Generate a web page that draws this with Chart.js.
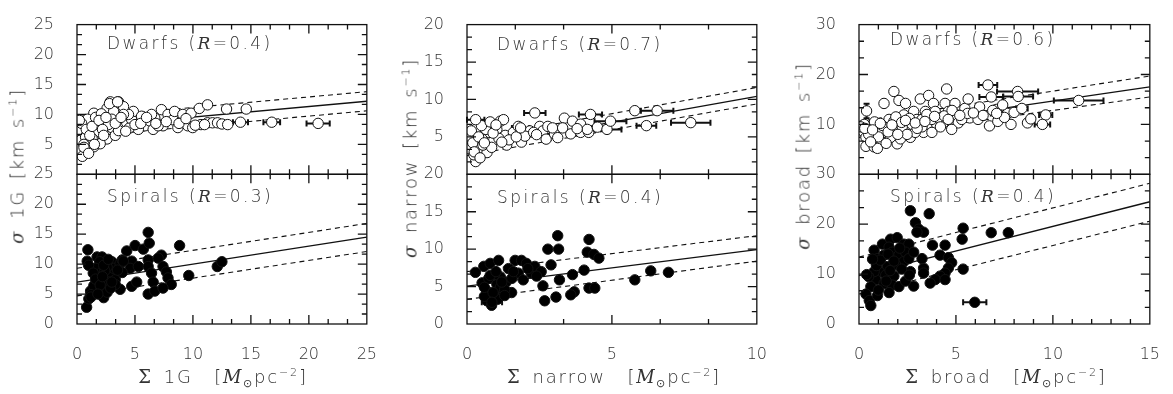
<!DOCTYPE html>
<html>
<head>
<meta charset="utf-8">
<script src="https://cdn.jsdelivr.net/npm/chart.js@4.4.1/dist/chart.umd.min.js"></script>
<style>
  html, body { margin: 0; padding: 0; background: #fff; }
  #wrap { position: relative; width: 1173px; height: 394px; overflow: hidden; }
  canvas { position: absolute; top: 0; }
  .txt { position: absolute; white-space: nowrap; color: #333; font-family: 'DejaVu Sans', sans-serif; font-weight: 200; }
  .panel { font-size: 17px; letter-spacing: 2.4px; transform: translateY(-50%); }
  .xt { font-size: 18px; letter-spacing: 1.8px; transform: translate(-50%, -50%); }
  .yt { font-size: 18px; letter-spacing: 1.8px; transform: translate(-50%, -50%) rotate(-90deg); }
  .m { font-family: 'DejaVu Serif', serif; font-style: italic; font-weight: normal; }
  .g { font-family: 'DejaVu Serif', serif; font-weight: normal; }
  sup, sub { font-size: 11px; }
</style>
</head>
<body>
<div id="wrap">
  <canvas id="c1" width="390" height="394" style="left:0px"></canvas>
  <canvas id="c2" width="390" height="394" style="left:390px"></canvas>
  <canvas id="c3" width="393" height="394" style="left:780px"></canvas>

  <div class="txt panel" style="left:107px;top:43px">Dwarfs (<span class="m">R</span>=0.4)</div>
  <div class="txt panel" style="left:107px;top:196px">Spirals (<span class="m">R</span>=0.3)</div>
  <div class="txt panel" style="left:497px;top:44px">Dwarfs (<span class="m">R</span>=0.7)</div>
  <div class="txt panel" style="left:497px;top:197px">Spirals (<span class="m">R</span>=0.4)</div>
  <div class="txt panel" style="left:890px;top:39px">Dwarfs (<span class="m">R</span>=0.6)</div>
  <div class="txt panel" style="left:890px;top:196px">Spirals (<span class="m">R</span>=0.4)</div>

  <div class="txt yt" style="left:17px;top:166px"><span class="m">σ</span>&ensp;1G&ensp;[km&ensp;s<sup>−1</sup>]</div>
  <div class="txt yt" style="left:410px;top:158px"><span class="m">σ</span>&ensp;narrow&ensp;[km&ensp;s<sup>−1</sup>]</div>
  <div class="txt yt" style="left:803px;top:156px"><span class="m">σ</span>&ensp;broad&ensp;[km&ensp;s<sup>−1</sup>]</div>

  <div class="txt xt" style="left:223px;top:378px"><span class="g">Σ</span>&ensp;1G&ensp;&ensp;[<span class="m">M</span><sub>⊙</sub>pc<sup>−2</sup>]</div>
  <div class="txt xt" style="left:614px;top:378px"><span class="g">Σ</span>&ensp;narrow&ensp;&ensp;[<span class="m">M</span><sub>⊙</sub>pc<sup>−2</sup>]</div>
  <div class="txt xt" style="left:1006px;top:378px"><span class="g">Σ</span>&ensp;broad&ensp;&ensp;[<span class="m">M</span><sub>⊙</sub>pc<sup>−2</sup>]</div>
</div>

<script>
// ---------- Σ 1G / σ 1G ----------
const dw1G_x = [1.45, 0.54, 0.31, 0.17, 0.31, 0.74, 0.46, 1.45, 1.02, 1.88, 2.30, 2.45, 3.01, 2.16, 2.59, 3.30,
  3.44, 3.87, 4.29, 4.72, 4.86, 4.44, 5.57, 5.86, 6.29, 6.71, 6.43, 7.28, 7.42, 7.85, 8.28, 8.42, 8.70, 9.13,
  9.56, 9.84, 9.98, 10.55, 10.69, 11.26, 11.26, 11.69, 12.12, 12.90, 14.60, 0.03, 1.17, 1.74, 1.45, 3.58, 5.29,
  6.57, 7.00, 2.87, 3.58, 4.01, 2.59, 3.16, 4.01, 1.17, 0.74, 0.90, 1.60, 2.10, 0.60, 1.30, 2.00, 4.50, 5.00,
  3.00, 2.70, 2.80, 3.50, 0.40, 0.80, 1.10, 1.30, 1.90, 2.20, 2.50, 0.20, 0.60, 1.00, 1.50, 2.30, 3.30, 3.80,
  4.20, 5.50, 6.00, 6.80, 7.70, 8.80, 9.40, 10.2, 11.0, 12.5, 13.0];
const dw1G_y = [10.2, 8.9, 7.8, 6.5, 5.7, 4.0, 3.0, 4.6, 7.3, 7.8, 8.6, 7.0, 7.8, 6.2, 5.9, 6.5,
  8.9, 7.8, 8.6, 9.1, 10.5, 10.0, 9.7, 8.1, 8.9, 9.4, 10.0, 10.8, 8.1, 10.0, 9.1, 10.5, 7.8, 10.0,
  8.1, 10.2, 7.8, 11.0, 8.3, 11.6, 8.6, 8.6, 8.6, 10.9, 10.9, 7.3, 8.9, 6.7, 5.7, 7.3, 7.5,
  7.5, 8.1, 12.1, 12.1, 11.3, 11.0, 10.5, 10.0, 8.1, 6.2, 9.2, 9.5, 10.1, 5.0, 6.0, 5.1, 7.7, 8.3,
  9.2, 8.3, 11.8, 12.1, 8.5, 7.5, 6.5, 8.0, 9.0, 7.5, 9.5, 9.0, 4.5, 3.5, 5.0, 6.5, 8.5, 9.5,
  7.2, 8.5, 9.5, 8.5, 8.8, 8.5, 9.3, 8.2, 8.3, 8.4, 8.3];
// points with horizontal error bars: x, y, error
const dw1G_ebX = [14.1, 16.8, 20.8];
const dw1G_ebY = [8.7, 8.7, 8.5];
const dw1G_ebE = [0.65, 0.72, 1.0];

const sp1G_x = [0.94, 0.88, 0.83, 1.17, 1.02, 1.73, 2.16, 1.96, 1.59, 1.88, 1.73, 2.16, 2.44, 2.59, 1.45, 2.02,
  2.30, 2.87, 3.01, 3.16, 3.72, 3.30, 3.72, 4.29, 4.72, 4.58, 5.29, 5.01, 4.72, 5.15, 5.72, 6.23, 6.14, 6.14,
  6.14, 6.43, 6.57, 6.14, 6.71, 7.28, 7.00, 7.42, 7.71, 7.85, 8.13, 7.42, 8.85, 9.64, 12.1, 12.5, 2.6, 3.3,
  1.2, 3.9, 3.9, 2.6, 2.4, 2.9, 1.0, 1.4, 1.6, 2.0, 2.3, 2.7, 1.2, 1.8, 3.5, 3.0, 4.0, 2.2];
const sp1G_y = [12.4, 10.5, 2.8, 5.5, 4.2, 11.2, 11.2, 10.4, 9.3, 8.2, 7.1, 8.7, 7.7, 6.6, 6.4, 5.5,
  4.4, 8.7, 10.4, 9.3, 10.1, 7.4, 5.8, 12.2, 10.5, 9.3, 9.6, 13.1, 6.3, 7.0, 12.5, 13.5, 15.3, 10.7,
  9.6, 8.5, 7.0, 5.0, 5.5, 11.5, 11.0, 9.6, 8.7, 7.7, 6.6, 6.0, 13.1, 8.1, 9.6, 10.4, 5.3, 6.6,
  4.9, 8.6, 10.7, 9.5, 8.9, 6.0, 9.8, 8.5, 7.5, 6.5, 9.8, 10.8, 4.5, 5.0, 9.0, 7.0, 10.5, 7.9];

const range1G = [0, 25];
const fitDw1G = [7.8, 12.2];
const upDw1G  = [9.4, 13.8];
const loDw1G  = [6.2, 10.6];
const fitSp1G = [7.0, 14.5];
const upSp1G  = [9.3, 16.8];
const loSp1G  = [4.7, 12.1];

// ---------- Σ narrow / σ narrow ----------
const dwNa_x = [0.35, 0.12, 0.07, 0.30, 0.24, 0.47, 0.69, 0.75, 0.52, 0.92, 1.03, 1.15, 1.26, 1.32, 1.37, 1.60,
  1.77, 1.94, 1.88, 2.17, 2.51, 2.62, 2.73, 2.79, 3.02, 3.13, 3.36, 3.58, 3.64, 3.92, 3.92, 4.20, 4.15,
  5.79, 0.65, 0.35, 0.08, 0.20, 0.55, 0.85, 1.10, 1.45, 2.00, 2.30, 2.95, 0.15, 0.40, 0.60, 0.90, 1.20,
  0.50, 0.25, 0.45, 1.70, 2.40, 3.30, 3.80, 4.50, 0.80, 1.00];
const dwNa_y = [6.2, 4.7, 3.4, 1.7, 2.6, 3.4, 2.9, 5.6, 4.7, 4.5, 6.0, 7.1, 7.3, 5.2, 3.9, 5.6,
  6.4, 5.4, 4.3, 5.8, 6.4, 5.8, 4.7, 6.4, 5.4, 4.9, 7.5, 5.4, 7.1, 6.7, 5.6, 5.6, 6.0,
  8.5, 6.0, 4.0, 5.1, 4.2, 3.9, 3.6, 4.8, 4.6, 5.1, 5.6, 6.2, 5.8, 5.0, 4.2, 5.5, 4.3,
  6.5, 3.0, 2.2, 5.0, 5.3, 6.2, 6.1, 6.3, 7.0, 6.6];
const dwNa_ebX = [0.30, 2.34, 4.26, 4.83, 4.95, 6.56, 6.19, 7.72, 1.85];
const dwNa_ebY = [7.3, 8.2, 8.0, 6.0, 7.1, 8.5, 6.5, 6.9, 6.2];
const dwNa_ebE = [0.30, 0.37, 0.40, 0.50, 0.55, 0.56, 0.34, 0.68, 0.30];

const spNa_x = [0.29, 0.58, 0.80, 1.09, 0.52, 0.75, 0.69, 0.69, 0.97, 1.03, 1.15, 1.26, 1.54, 1.43, 1.66, 1.88,
  2.05, 1.77, 1.94, 2.22, 2.34, 2.56, 2.90, 2.62, 2.68, 2.79, 3.13, 3.16, 3.19, 3.07, 3.64, 3.70, 3.58, 4.04,
  4.21, 4.15, 4.38, 4.55, 4.21, 4.41, 5.79, 6.34, 6.95, 0.60, 1.05, 1.15, 1.35, 1.55, 2.10, 0.95, 1.30,
  0.80, 1.00, 0.60, 0.90, 1.20, 1.60, 2.40, 0.85, 1.30];
const spNa_y = [6.9, 7.7, 8.1, 8.5, 5.5, 6.1, 4.4, 3.1, 3.5, 5.3, 6.3, 4.0, 4.2, 7.4, 8.5, 8.5,
  8.1, 6.8, 5.9, 6.8, 7.7, 7.0, 7.9, 5.1, 3.1, 10.0, 11.8, 10.0, 5.9, 3.6, 6.6, 4.3, 3.9, 7.2,
  11.3, 9.6, 9.3, 8.8, 4.8, 4.8, 5.9, 7.1, 6.9, 3.7, 3.3, 4.9, 5.6, 6.1, 7.4, 6.6, 4.6,
  6.5, 7.0, 4.9, 4.2, 5.6, 7.0, 6.4, 2.5, 3.8];
const spNa_ebX = [0.86];
const spNa_ebY = [2.9];
const spNa_ebE = [0.35];
const spNa_evE = [0.6];

const rangeNa = [0, 10];
const fitDwNa = [3.5, 10.4];
const upDwNa  = [4.6, 11.6];
const loDwNa  = [2.5, 9.4];
const fitSpNa = [5.05, 9.95];
const upSpNa  = [7.0, 11.8];
const loSpNa  = [3.3, 8.4];

// ---------- Σ broad / σ broad ----------
const dwBr_x = [0.27, 0.19, 0.36, 0.36, 0.78, 0.95, 0.61, 1.04, 1.29, 1.46, 1.55, 1.80, 1.80, 1.97, 2.14, 2.06,
  2.40, 2.31, 2.57, 2.65, 2.82, 2.99, 3.16, 3.33, 3.59, 3.42, 3.84, 3.93, 4.01, 4.35, 4.44, 4.52, 4.61, 4.95,
  5.03, 5.12, 5.46, 5.63, 5.71, 6.14, 6.22, 6.73, 7.08, 7.16, 7.67, 7.84, 8.69, 8.86, 7.41, 0.87, 1.38,
  1.72, 2.23, 2.74, 3.25, 3.76, 4.10, 4.40, 4.78, 5.30, 3.25, 3.76, 2.90, 2.48, 1.63, 1.20, 0.50, 0.80,
  1.00, 1.20, 1.50, 1.90, 2.20, 2.60, 3.00, 3.50, 4.20, 4.80, 5.60, 6.40, 6.90, 7.50, 8.00, 0.10, 0.60, 1.40,
  0.30, 0.70, 1.10, 1.70, 2.00, 2.40, 2.90, 3.40, 3.90, 4.60, 5.20, 5.90];
const dwBr_y = [10.0, 8.7, 7.4, 5.6, 5.5, 5.2, 9.0, 9.3, 14.2, 6.8, 11.0, 16.6, 10.6, 6.1, 7.1, 14.8,
  14.2, 11.9, 9.3, 7.4, 12.6, 11.0, 15.1, 8.4, 15.8, 12.6, 14.2, 12.6, 10.0, 10.3, 14.2, 17.1, 12.6, 14.2,
  11.9, 10.3, 13.2, 15.1, 11.3, 11.0, 13.5, 9.7, 13.0, 10.6, 12.2, 10.0, 10.3, 11.1, 13.9, 9.7, 8.4,
  9.0, 9.5, 10.0, 11.0, 11.0, 11.3, 11.7, 9.0, 11.0, 9.5, 8.4, 8.4, 8.0, 7.4, 8.7, 8.0, 10.5,
  7.5, 9.8, 8.5, 11.5, 10.4, 11.2, 9.2, 12.0, 9.5, 12.8, 12.2, 11.8, 12.8, 11.4, 12.4, 9.5, 6.5, 6.2,
  9.2, 8.9, 10.2, 9.9, 8.0, 10.8, 10.3, 10.6, 11.6, 11.0, 11.8, 12.3];
const dwBr_ebX = [6.65, 8.18, 6.82, 8.21, 11.33, 8.40, 7.10, 9.63, 9.46];
const dwBr_ebY = [17.9, 16.6, 15.5, 15.6, 14.8, 13.2, 12.2, 11.9, 10.0];
const dwBr_ebE = [0.48, 1.06, 0.61, 0.77, 1.28, 0.30, 0.30, 0.34, 0.40];
// vertical error bar
const dwBr_evX = [0.39];
const dwBr_evY = [12.7];
const dwBr_evE = [1.45];

const spBr_x = [2.65, 3.62, 2.91, 3.08, 3.33, 2.99, 5.37, 5.32, 6.82, 7.70, 3.79, 4.44, 4.18, 4.61, 4.78, 4.61,
  4.44, 4.18, 3.93, 4.44, 3.67, 3.33, 3.33, 2.82, 2.65, 5.37, 0.78, 1.21, 1.63, 1.97, 2.31, 2.57, 1.55, 0.95,
  1.29, 1.72, 2.06, 2.40, 2.31, 1.89, 1.46, 1.04, 1.38, 1.80, 0.87, 1.29, 1.72, 2.06, 0.61, 0.36, 0.53, 0.61,
  0.95, 1.55, 0.78, 2.57, 2.82, 3.25, 2.40, 0.50, 0.90, 1.10, 1.50, 1.80, 2.20, 2.60, 1.00, 1.40, 2.10, 0.70, 1.60];
const spBr_y = [22.7, 22.1, 20.3, 19.0, 18.4, 18.4, 19.2, 17.0, 18.3, 18.3, 15.8, 15.8, 13.8, 13.3, 12.3, 11.2,
  10.2, 9.6, 8.9, 8.9, 8.2, 11.2, 10.2, 7.6, 10.5, 11.0, 14.8, 16.0, 17.0, 17.3, 16.0, 16.0, 15.4, 13.1,
  13.8, 14.4, 13.8, 14.4, 12.5, 11.9, 11.5, 10.5, 9.8, 9.6, 8.9, 8.1, 7.8, 7.5, 7.5, 6.0, 4.7, 3.7,
  5.7, 6.3, 10.5, 13.1, 14.4, 13.1, 8.6, 9.5, 11.7, 12.8, 14.0, 12.6, 11.0, 9.8, 6.8, 8.6, 15.2, 13.0, 10.7];
const spBr_ebX = [5.97, 0.40];
const spBr_ebY = [4.35, 9.9];
const spBr_ebE = [0.60, 0.20];

const rangeBr = [0, 15];
const fitDwBr = [9.0, 17.5];
const upDwBr  = [10.6, 19.7];
const loDwBr  = [7.4, 15.5];
const fitSpBr = [9.7, 24.5];
const upSpBr  = [13.4, 28.2];
const loSpBr  = [6.0, 20.6];

// -----------------------------------------------
const INK = '#111';
const TICK_FONT = { family: "'DejaVu Sans', sans-serif", size: 16, weight: 200 };
const RADIUS = 5.2;

function pts(xs, ys) {
  return xs.map(function(x, i) { return { x: x, y: ys[i] }; });
}
function seg(range, ends) {
  return [{ x: range[0], y: ends[0] }, { x: range[1], y: ends[1] }];
}

function pointSet(data, axis, filled) {
  return {
    data: data, yAxisID: axis,
    pointRadius: RADIUS, pointHoverRadius: RADIUS,
    pointBorderWidth: 1,
    pointBorderColor: INK,
    pointBackgroundColor: filled ? '#000' : '#fff',
    showLine: false
  };
}
function lineSet(data, axis, dashed) {
  return {
    data: data, yAxisID: axis, showLine: true,
    borderColor: INK, borderWidth: dashed ? 1.1 : 1.3,
    borderDash: dashed ? [5, 4] : [],
    pointRadius: 0, pointHoverRadius: 0, fill: false
  };
}

function isMajor(v, step) {
  return Math.abs(v / step - Math.round(v / step)) < 1e-6;
}

// error bars, and the framed panels with inward ticks on all four sides
function makeDecor(c) {
  return {
    id: 'decor',
    beforeDatasetsDraw: function(chart) {
      const ctx = chart.ctx, xs = chart.scales.x;
      ctx.save();
      ctx.strokeStyle = INK;
      ctx.lineWidth = 2;
      c.bars.forEach(function(b) {
        const ys = chart.scales[b.axis];
        b.x.forEach(function(x, i) {
          const e = b.e[i];
          ctx.beginPath();
          if (b.vertical) {
            const px = xs.getPixelForValue(x);
            const a = ys.getPixelForValue(b.y[i] - e), d = ys.getPixelForValue(b.y[i] + e);
            ctx.moveTo(px, a); ctx.lineTo(px, d);
            ctx.moveTo(px - 3, a); ctx.lineTo(px + 3, a);
            ctx.moveTo(px - 3, d); ctx.lineTo(px + 3, d);
          } else {
            const py = ys.getPixelForValue(b.y[i]);
            const a = xs.getPixelForValue(x - e), d = xs.getPixelForValue(x + e);
            ctx.moveTo(a, py); ctx.lineTo(d, py);
            ctx.moveTo(a, py - 3); ctx.lineTo(a, py + 3);
            ctx.moveTo(d, py - 3); ctx.lineTo(d, py + 3);
          }
          ctx.stroke();
        });
      });
      ctx.restore();
    },
    afterDraw: function(chart) {
      const ctx = chart.ctx, xs = chart.scales.x;
      const nx = Math.round(c.xMax / c.xMinor), ny = Math.round(c.yMax / c.yMinor);
      ctx.save();
      ctx.strokeStyle = INK;
      ctx.lineWidth = 1.3;
      ['yTop', 'yBot'].forEach(function(id) {
        const ys = chart.scales[id];
        const L = xs.left, R = xs.right, T = ys.top, B = ys.bottom;
        ctx.strokeRect(L, T, R - L, B - T);
        for (let k = 1; k < nx; k++) {
          const v = k * c.xMinor;
          const len = isMajor(v, c.xMajor) ? 9 : 5;
          const px = xs.getPixelForValue(v);
          ctx.beginPath();
          ctx.moveTo(px, B); ctx.lineTo(px, B - len);
          ctx.moveTo(px, T); ctx.lineTo(px, T + len);
          ctx.stroke();
        }
        for (let k = 1; k < ny; k++) {
          const v = k * c.yMinor;
          const len = isMajor(v, c.yMajor) ? 9 : 5;
          const py = ys.getPixelForValue(v);
          ctx.beginPath();
          ctx.moveTo(L, py); ctx.lineTo(L + len, py);
          ctx.moveTo(R, py); ctx.lineTo(R - len, py);
          ctx.stroke();
        }
      });
      ctx.restore();
    }
  };
}

function yAxis(c, hideZero) {
  return {
    type: 'linear', position: 'left', stack: 'col', stackWeight: 1,
    min: 0, max: c.yMax,
    grid: { display: false }, border: { display: false },
    ticks: {
      stepSize: c.yMajor, padding: 15, color: '#333', font: TICK_FONT, autoSkip: false,
      callback: function(v) { return (hideZero && v === 0) ? '' : v; }
    },
    afterFit: function(s) { s.width = c.axisW; }
  };
}

function makeColumn(id, c) {
  const datasets = [
    pointSet(pts(c.dwX, c.dwY), 'yTop', false),
    pointSet(pts(c.spX, c.spY), 'yBot', true),
    lineSet(seg(c.range, c.fitDw), 'yTop', false),
    lineSet(seg(c.range, c.upDw), 'yTop', true),
    lineSet(seg(c.range, c.loDw), 'yTop', true),
    lineSet(seg(c.range, c.fitSp), 'yBot', false),
    lineSet(seg(c.range, c.upSp), 'yBot', true),
    lineSet(seg(c.range, c.loSp), 'yBot', true)
  ];
  new Chart(document.getElementById(id), {
    type: 'scatter',
    data: { datasets: datasets },
    options: {
      responsive: false, animation: false, events: [],
      layout: { padding: { top: 15, right: c.padR, left: 0, bottom: 0 } },
      plugins: { legend: { display: false }, tooltip: { enabled: false } },
      scales: {
        x: {
          type: 'linear', min: 0, max: c.xMax,
          grid: { display: false }, border: { display: false },
          ticks: { stepSize: c.xMajor, padding: 13, color: '#333', font: TICK_FONT, maxRotation: 0, autoSkip: false },
          afterFit: function(s) { s.height = 70; }
        },
        yBot: yAxis(c, false),
        yTop: yAxis(c, true)
      }
    },
    plugins: [makeDecor(c)]
  });
}

function withErr(xs, ys, ex, ey) {
  return { x: xs.concat(ex), y: ys.concat(ey) };
}

const d1 = withErr(dw1G_x, dw1G_y, dw1G_ebX, dw1G_ebY);
makeColumn('c1', {
  dwX: d1.x, dwY: d1.y, spX: sp1G_x, spY: sp1G_y,
  range: range1G, fitDw: fitDw1G, upDw: upDw1G, loDw: loDw1G, fitSp: fitSp1G, upSp: upSp1G, loSp: loSp1G,
  xMax: 25, xMajor: 5, xMinor: 5 / 3, yMax: 25, yMajor: 5, yMinor: 5 / 3,
  axisW: 77, padR: 20,
  bars: [{ axis: 'yTop', x: dw1G_ebX, y: dw1G_ebY, e: dw1G_ebE }]
});

const d2 = withErr(dwNa_x, dwNa_y, dwNa_ebX, dwNa_ebY);
const s2 = withErr(spNa_x, spNa_y, spNa_ebX, spNa_ebY);
makeColumn('c2', {
  dwX: d2.x, dwY: d2.y, spX: s2.x, spY: s2.y,
  range: rangeNa, fitDw: fitDwNa, upDw: upDwNa, loDw: loDwNa, fitSp: fitSpNa, upSp: upSpNa, loSp: loSpNa,
  xMax: 10, xMajor: 5, xMinor: 5 / 3, yMax: 20, yMajor: 5, yMinor: 5 / 3,
  axisW: 77, padR: 19,
  bars: [
    { axis: 'yTop', x: dwNa_ebX, y: dwNa_ebY, e: dwNa_ebE },
    { axis: 'yBot', x: spNa_ebX, y: spNa_ebY, e: spNa_ebE },
    { axis: 'yBot', x: spNa_ebX, y: spNa_ebY, e: spNa_evE, vertical: true }
  ]
});

const d3a = withErr(dwBr_x, dwBr_y, dwBr_ebX, dwBr_ebY);
const d3 = withErr(d3a.x, d3a.y, dwBr_evX, dwBr_evY);
const s3 = withErr(spBr_x, spBr_y, spBr_ebX, spBr_ebY);
makeColumn('c3', {
  dwX: d3.x, dwY: d3.y, spX: s3.x, spY: s3.y,
  range: rangeBr, fitDw: fitDwBr, upDw: upDwBr, loDw: loDwBr, fitSp: fitSpBr, upSp: upSpBr, loSp: loSpBr,
  xMax: 15, xMajor: 5, xMinor: 1, yMax: 30, yMajor: 10, yMinor: 10 / 3,
  axisW: 79, padR: 20,
  bars: [
    { axis: 'yTop', x: dwBr_ebX, y: dwBr_ebY, e: dwBr_ebE },
    { axis: 'yTop', x: dwBr_evX, y: dwBr_evY, e: dwBr_evE, vertical: true },
    { axis: 'yBot', x: spBr_ebX, y: spBr_ebY, e: spBr_ebE }
  ]
});
</script>
</body>
</html>
